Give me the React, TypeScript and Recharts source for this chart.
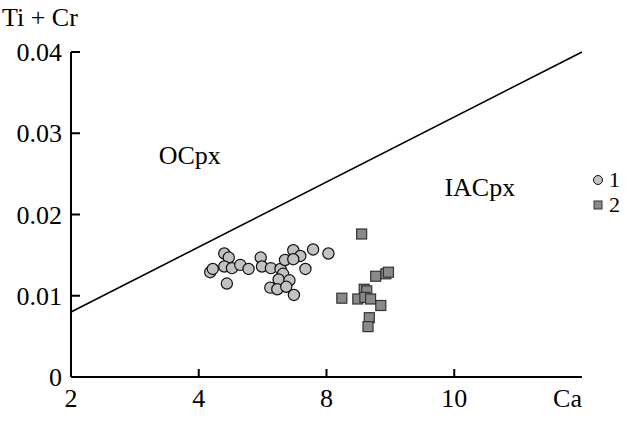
import { ScatterChart, Scatter, XAxis, YAxis, ReferenceLine, ReferenceDot, Legend, Customized } from 'recharts';

// group 1 (circles)
const caGroup1 = [4.18, 4.22, 4.40, 4.47, 4.40, 4.52, 4.44, 4.65, 4.78, 4.97, 4.99, 5.13, 5.28, 5.32, 5.48, 5.59, 5.35, 5.48, 5.79, 6.03, 5.67, 5.25, 5.42, 5.12, 5.23, 5.37, 5.49];
const tiCrGroup1 = [0.0129, 0.0133, 0.0152, 0.0147, 0.0136, 0.0134, 0.0115, 0.0138, 0.0133, 0.0147, 0.0136, 0.0134, 0.0133, 0.0127, 0.0156, 0.0149, 0.0144, 0.0145, 0.0157, 0.0152, 0.0133, 0.0120, 0.0119, 0.0110, 0.0108, 0.0111, 0.0101];

// group 2 (squares)
const caGroup2 = [6.55, 6.77, 6.93, 6.97, 6.24, 6.59, 6.63, 6.49, 6.60, 6.69, 6.85, 6.67, 6.65];
const tiCrGroup2 = [0.0176, 0.0124, 0.0127, 0.0129, 0.0097, 0.0108, 0.0106, 0.0096, 0.0098, 0.0096, 0.0088, 0.0073, 0.0062];

const seriesNames = ['1', '2'];

const xTicks = [2, 4, 6, 8, 10];
const xTickLabels = ['2', '4', '8', '10', 'Ca'];
const yTicks = [0, 0.01, 0.02, 0.03, 0.04];
const yTickLabels = ['0', '0.01', '0.02', '0.03', '0.04'];

// OCpx / IACpx boundary
const boundary = [
  { x: 2, y: 0.008 },
  { x: 10, y: 0.04 },
];

const zoneLabels = [
  { text: 'OCpx', x: 3.86, y: 0.0273 },
  { text: 'IACpx', x: 8.4, y: 0.0234 },
];

const FONT = "'Liberation Serif', 'Times New Roman', serif";
const FONT_SIZE = 26;
const LEGEND_FONT_SIZE = 22;
const X_TICK_MARGIN = 12;
const Y_TICK_MARGIN = 9;

const group1 = caGroup1.map((ca, i) => ({ x: ca, y: tiCrGroup1[i] }));
const group2 = caGroup2.map((ca, i) => ({ x: ca, y: tiCrGroup2[i] }));

const XTick = (props: any) => {
  const { x, y, payload } = props;
  const v = payload.value;
  const idx = xTicks.indexOf(v);
  const axisY = y - X_TICK_MARGIN;
  const inner = v !== xTicks[0] && v !== xTicks[xTicks.length - 1];
  const last = idx === xTicks.length - 1;
  return (
    <g>
      {inner && <line x1={x} x2={x} y1={axisY} y2={axisY - 8} stroke="#000" strokeWidth={2} />}
      <text x={x} y={y} dy="0.71em" textAnchor={last ? 'end' : 'middle'} fontFamily={FONT} fontSize={FONT_SIZE} fill="#000">
        {xTickLabels[idx]}
      </text>
    </g>
  );
};

const YTick = (props: any) => {
  const { x, y, payload } = props;
  const v = payload.value;
  const idx = yTicks.indexOf(v);
  const axisX = x + Y_TICK_MARGIN;
  return (
    <g>
      {v !== 0 && <line x1={axisX} x2={axisX + 9} y1={y} y2={y} stroke="#000" strokeWidth={2} />}
      <text x={x} y={y} dy="0.355em" textAnchor="end" fontFamily={FONT} fontSize={FONT_SIZE} fill="#000">
        {yTickLabels[idx]}
      </text>
    </g>
  );
};

const Circle = (props: any) => (
  <circle cx={props.cx} cy={props.cy} r={5.6} fill="#c2c2c2" stroke="#111" strokeWidth={1.2} />
);

const Square = (props: any) => (
  <rect x={props.cx - 5} y={props.cy - 5} width={10} height={10} fill="#8a8a8a" stroke="#333" strokeWidth={1.2} />
);

const renderLegend = () => (
  <div style={{ fontFamily: FONT, fontSize: LEGEND_FONT_SIZE, lineHeight: '25px', color: '#000' }}>
    {seriesNames.map((name, i) => (
      <div key={name} style={{ display: 'flex', alignItems: 'center', height: 25 }}>
        <svg width={14} height={14}>
          {i === 0 ? (
            <circle cx={7} cy={7} r={4.5} fill="#c2c2c2" stroke="#111" strokeWidth={1} />
          ) : (
            <rect x={3} y={3} width={8} height={8} fill="#8a8a8a" stroke="#333" strokeWidth={1} />
          )}
        </svg>
        <span style={{ marginLeft: 4 }}>{name}</span>
      </div>
    ))}
  </div>
);

const AxisTitle = () => (
  <text x={2} y={26} fontFamily={FONT} fontSize={FONT_SIZE} fill="#000">
    Ti + Cr
  </text>
);

export default function App() {
  return (
    <div style={{ position: 'absolute', left: 0, top: 0, background: '#fff' }}>
      <ScatterChart width={636} height={423} margin={{ top: 52, right: 54, bottom: 16, left: 0 }}>
        <XAxis
          type="number"
          dataKey="x"
          domain={[2, 10]}
          ticks={xTicks}
          interval={0}
          height={30}
          tickSize={0}
          tickMargin={X_TICK_MARGIN}
          tickLine={false}
          axisLine={{ stroke: '#000', strokeWidth: 2 }}
          tick={<XTick />}
        />
        <YAxis
          type="number"
          dataKey="y"
          domain={[0, 0.04]}
          ticks={yTicks}
          interval={0}
          width={71}
          tickSize={0}
          tickMargin={Y_TICK_MARGIN}
          tickLine={false}
          axisLine={{ stroke: '#000', strokeWidth: 2 }}
          tick={<YTick />}
          allowDataOverflow
        />
        <ReferenceLine segment={boundary} stroke="#000" strokeWidth={1.6} ifOverflow="visible" />
        {zoneLabels.map((z) => (
          <ReferenceDot
            key={z.text}
            x={z.x}
            y={z.y}
            r={0}
            fill="none"
            stroke="none"
            ifOverflow="visible"
            label={{ value: z.text, position: 'center', fill: '#000', fontFamily: FONT, fontSize: FONT_SIZE }}
          />
        ))}
        <Scatter name={seriesNames[0]} data={group1} shape={<Circle />} isAnimationActive={false} />
        <Scatter name={seriesNames[1]} data={group2} shape={<Square />} isAnimationActive={false} />
        <Legend
          layout="vertical"
          align="center"
          verticalAlign="middle"
          content={renderLegend}
          wrapperStyle={{ left: 591, top: 167, width: 45 }}
        />
        <Customized component={<AxisTitle />} />
      </ScatterChart>
    </div>
  );
}
